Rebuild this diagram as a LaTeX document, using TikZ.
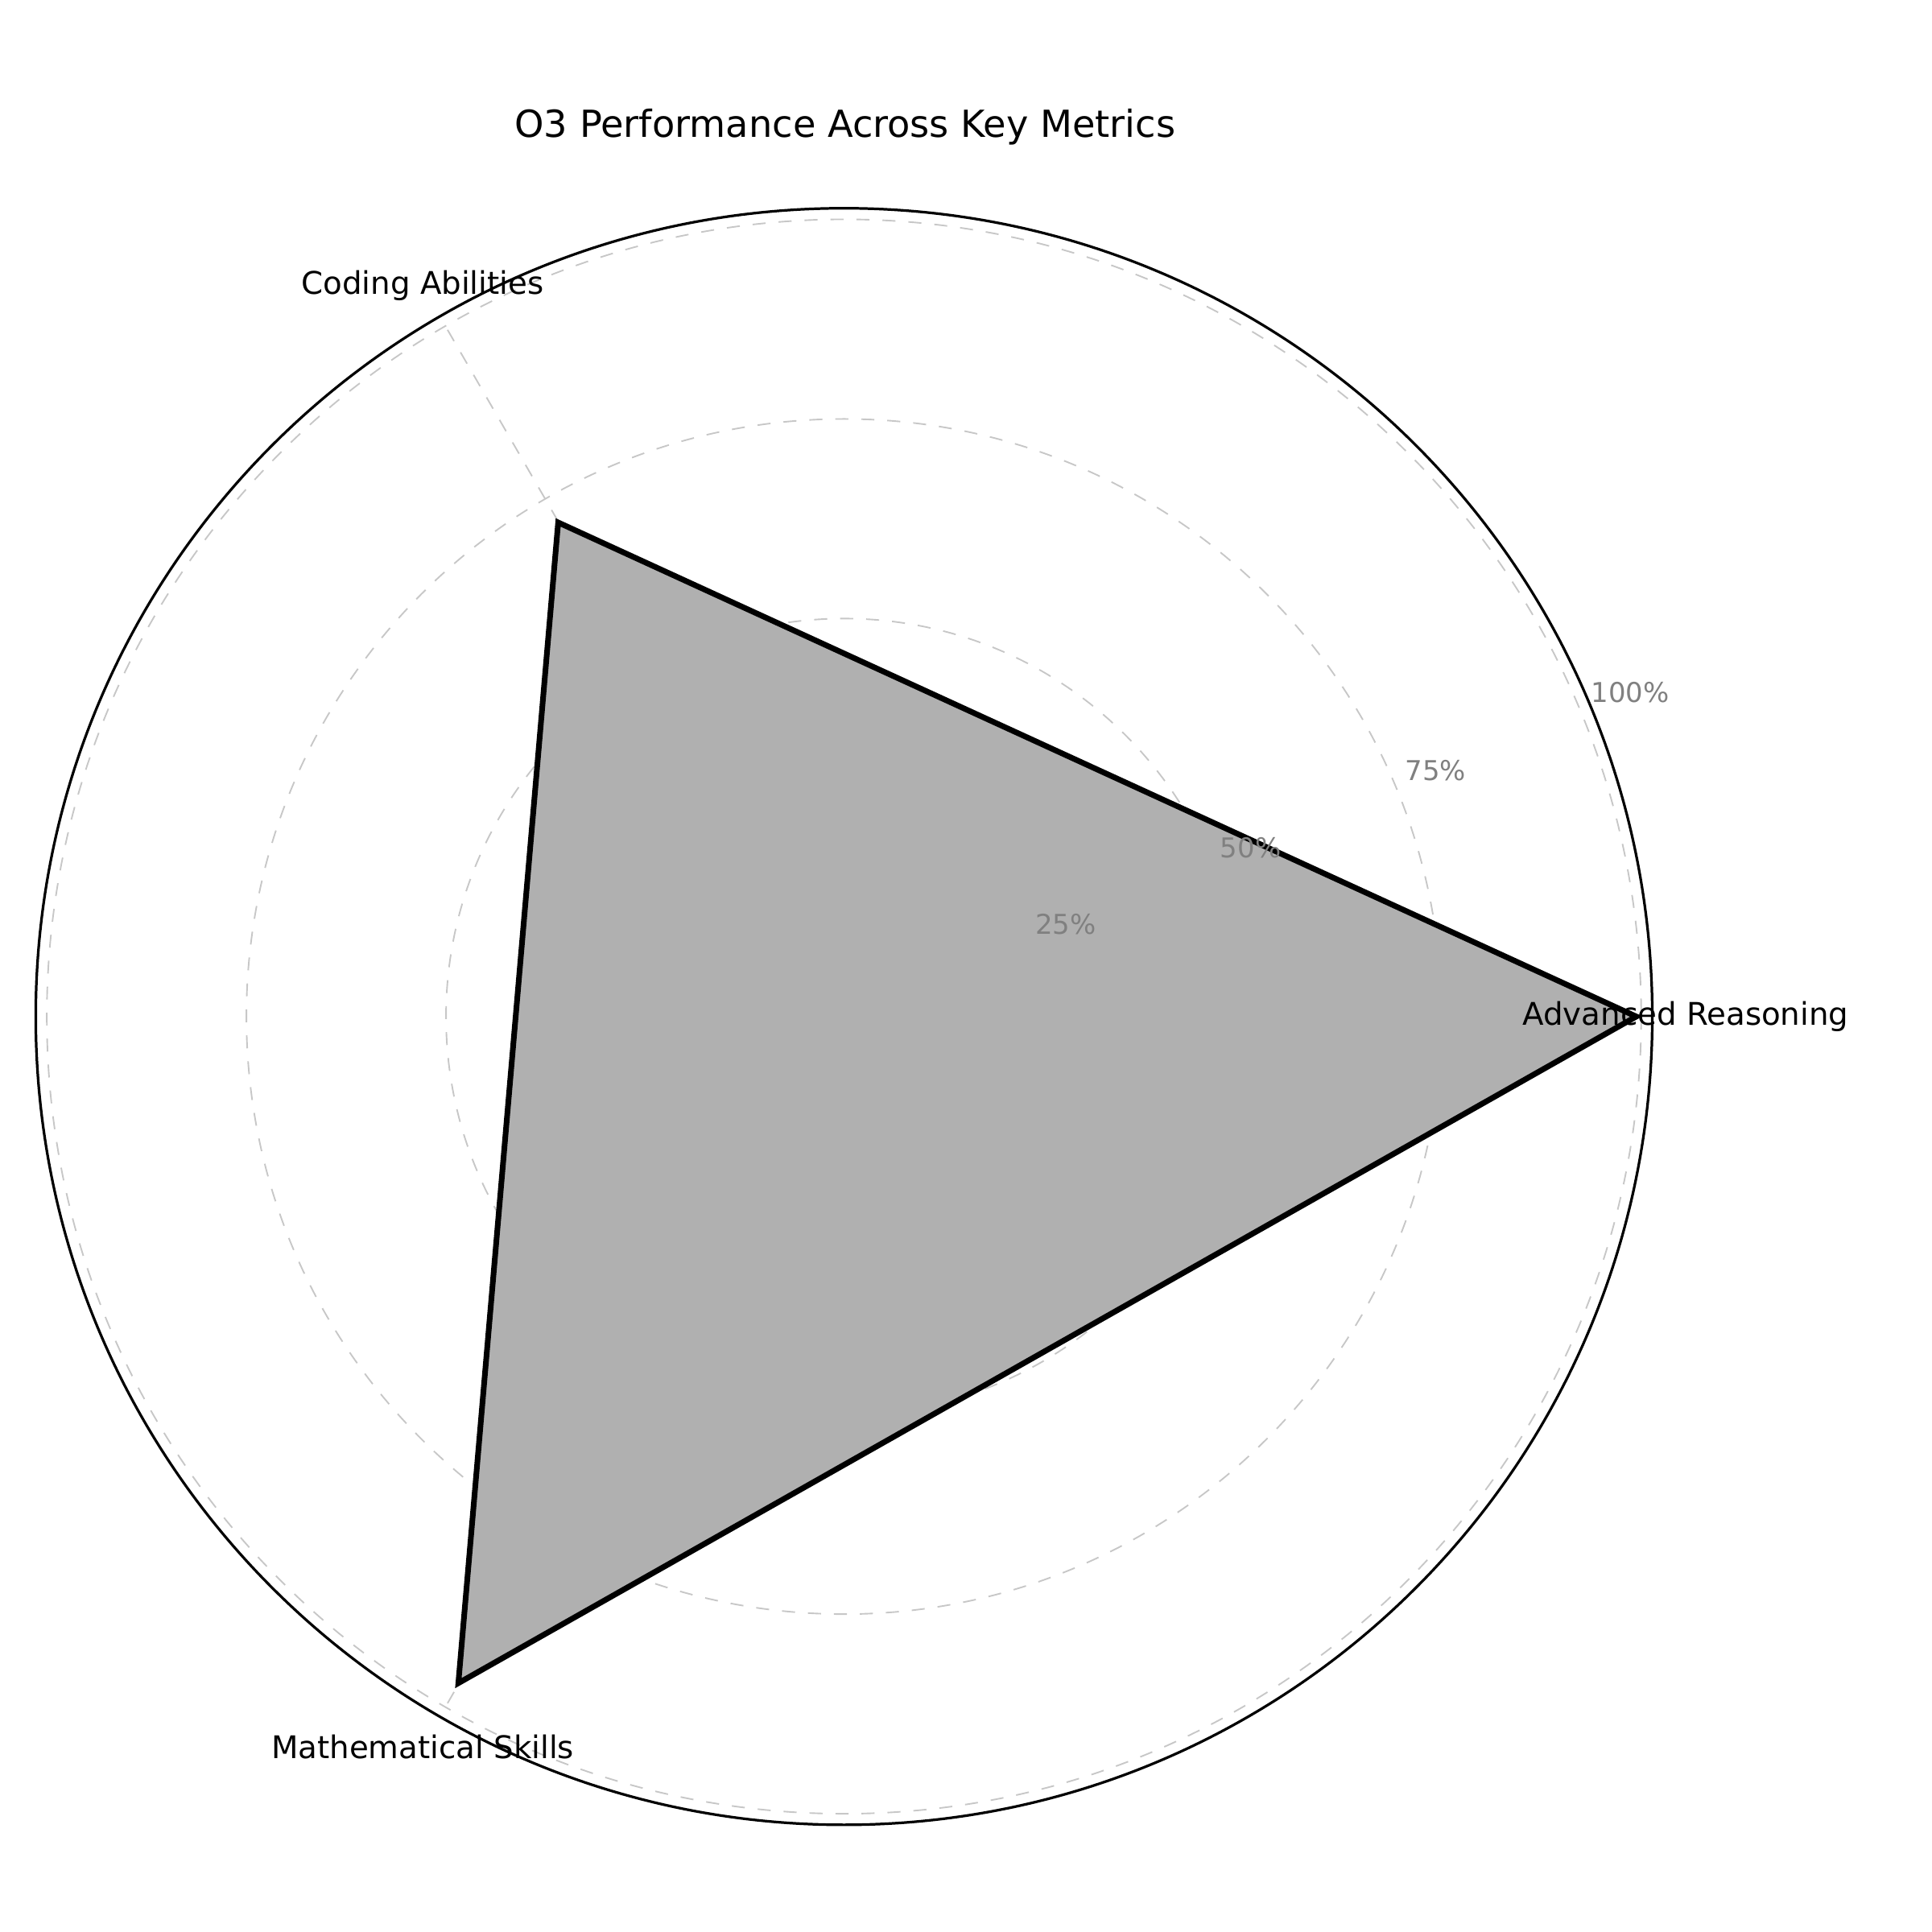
\documentclass[tikz,border=0pt]{standalone}
\usepackage{fontspec}
\setmainfont{DejaVu Sans}
\begin{document}
\begin{tikzpicture}[x=0.01cm,y=-0.01cm,
  grid/.style={draw=black!22,dashed,line width=0.35pt},
  ticklab/.style={text=black!50,font=\fontsize{6.3}{7}\selectfont},
  axlab/.style={font=\fontsize{7.2}{8}\selectfont}]
\useasboundingbox (0,0) rectangle (1568,1568);
\coordinate (c) at (685,825);
\foreach \r in {162,323,485,647} \draw[grid] (c) circle[radius=\r];
\foreach \a in {0,120,240} \draw[grid] (c) -- ++(\a:647 and -647);
\coordinate (p1) at (1328,825);
\coordinate (p2) at (453,424);
\coordinate (p3) at (372,1366);
\filldraw[fill=black!31,draw=black,line width=1.3pt,line join=miter] (p1) -- (p2) -- (p3) -- cycle;
\draw[black,line width=0.6pt] (c) circle[radius=656];
\node[ticklab] (t25) at (865,750) {25\%};
\node[ticklab] (t50) at (1015,688) {50\%};
\node[ticklab] (t75) at (1165,625) {75\%};
\node[ticklab] (t100) at (1323,562) {100\%};
\node[axlab] (l1) at (1368,825) {Advanced Reasoning};
\node[axlab] (l2) at (343,232) {Coding Abilities};
\node[axlab] (l3) at (343,1418) {Mathematical Skills};
\node[font=\fontsize{8.6}{10}\selectfont] (title) at (686,103) {O3 Performance Across Key Metrics};
\end{tikzpicture}
\end{document}
